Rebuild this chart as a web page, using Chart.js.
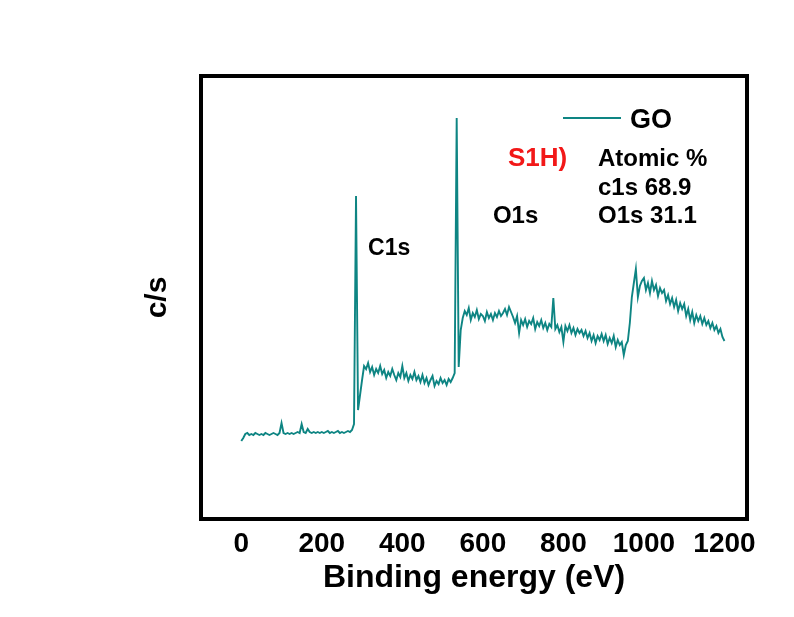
<!DOCTYPE html>
<html>
<head>
<meta charset="utf-8">
<title>XPS survey - GO</title>
<script src="https://cdn.jsdelivr.net/npm/chart.js@4.4.1/dist/chart.umd.min.js"></script>
<style>
  html, body { margin: 0; padding: 0; background: #fff; }
  #wrap { width: 794px; height: 617px; }
</style>
</head>
<body>
<div id="wrap"><canvas id="xps" width="794" height="617"></canvas></div>
<script>
const FONT = "'Liberation Sans', Arial, sans-serif";

// survey scan, 5 eV step from 0 to 1200 eV (counts per second)
const stepEV = 5;
const counts = [
  7800, 8100, 8500, 8600, 8400, 8500, 8400, 8600, 8500, 8400,   // 0-45
  8500, 8400, 8600, 8500, 8400, 8500, 8600, 8500, 8400, 8600,   // 50-95
  9600, 8600, 8500, 8600, 8500, 8600, 8500, 8600, 8700, 8600,   // 100-145
  9500, 8700, 8600, 9000, 8700, 8600, 8700, 8600, 8700, 8600,   // 150-195
  8700, 8600, 8700, 8800, 8600, 8700, 8600, 8700, 8800, 8600,   // 200-245
  8700, 8600, 8700, 8800, 8700, 8900, 9500, 32300, 10900, 12400, // 250-295 (C1s)
  13900, 15300, 15000, 15600, 14700, 15200, 14400, 15000, 14600, 15300, // 300-345
  14500, 14900, 14100, 14700, 14300, 15000, 14400, 13900, 14600, 14200, // 350-395
  15300, 14100, 14600, 13800, 14400, 14000, 14700, 13900, 14300, 13700, // 400-445
  14400, 13600, 14100, 13400, 13900, 14300, 13300, 13800, 13500, 14100, // 450-495
  13600, 13900, 13400, 14000, 13700, 14100, 14600, 40100, 15200, 18900, // 500-545 (O1s)
  20100, 20800, 20400, 21100, 19900, 20600, 20200, 20900, 20000, 20500, // 550-595
  20300, 19800, 20700, 20100, 20500, 19900, 20600, 20200, 20800, 20300, // 600-645
  20600, 21000, 20400, 21200, 20700, 20200, 19600, 20300, 18600, 19900, // 650-695
  19400, 20000, 19200, 19800, 19500, 20100, 19000, 19700, 19300, 19900, // 700-745
  19100, 19600, 18900, 19500, 19200, 22100, 19000, 19400, 18700, 19200, // 750-795
  17700, 19300, 18800, 19400, 18600, 19100, 18400, 19000, 18600, 18900, // 800-845
  18300, 18800, 18100, 18600, 17800, 18400, 17600, 18300, 17900, 18500, // 850-895
  17800, 18400, 17500, 18100, 17600, 18300, 17200, 17900, 17400, 17700, // 900-945
  16400, 17400, 17800, 19600, 22200, 23600, 25000, 22200, 23300, 23800, // 950-995
  24100, 22900, 23600, 22600, 23800, 22900, 23400, 22300, 23100, 22600, // 1000-1045
  22900, 21800, 22400, 21500, 22100, 21200, 21900, 20800, 21600, 21000, // 1050-1095
  21500, 20300, 21000, 19900, 20700, 19600, 20400, 19800, 20300, 19500, // 1100-1145
  20100, 19400, 19800, 19100, 19600, 18900, 19300, 18600, 19000, 18200, // 1150-1195
  17800                                                                  // 1200
];
const energy = counts.map((c, i) => i * stepEV);

const xTicks = [0, 200, 400, 600, 800, 1000, 1200];
const peakNames = ['C1s', 'O1s'];
const peakLabelAt = [[315, 26400], [625, 29600]];   // eV, c/s of label baseline-left
const atomicNames = ['c1s', 'O1s'];
const atomicPct = [68.9, 31.1];
const panelTag = 'S1H)';
const seriesName = 'GO';
const lineColor = '#0e8583';

// frame, legend and text notes drawn on top of the trace
const notes = {
  id: 'notes',
  afterDatasetsDraw(chart) {
    const { ctx, chartArea: a, scales: { x, y } } = chart;
    ctx.save();
    ctx.strokeStyle = '#000';
    ctx.lineWidth = 4;
    ctx.strokeRect(a.left, a.top, a.right - a.left, a.bottom - a.top);

    ctx.fillStyle = '#000';
    ctx.textBaseline = 'alphabetic';
    ctx.textAlign = 'left';
    peakNames.forEach((name, i) => {
      ctx.font = 'bold ' + (i === 0 ? 23 : 24) + 'px ' + FONT;
      ctx.fillText(name, x.getPixelForValue(peakLabelAt[i][0]), y.getPixelForValue(peakLabelAt[i][1]));
    });

    // legend
    ctx.strokeStyle = lineColor;
    ctx.lineWidth = 2;
    ctx.beginPath();
    ctx.moveTo(a.left + 362, a.top + 42);
    ctx.lineTo(a.left + 420, a.top + 42);
    ctx.stroke();
    ctx.font = 'bold 27px ' + FONT;
    ctx.fillText(seriesName, a.left + 429, a.top + 52);

    ctx.fillStyle = '#f21818';
    ctx.font = 'bold 26px ' + FONT;
    ctx.fillText(panelTag, a.left + 307, a.top + 90);

    ctx.fillStyle = '#000';
    ctx.font = 'bold 24px ' + FONT;
    ctx.fillText('Atomic %', a.left + 397, a.top + 90);
    atomicNames.forEach((n, i) => {
      ctx.fillText(n + ' ' + atomicPct[i].toFixed(1), a.left + 397, a.top + 118.5 + i * 28.5);
    });
    ctx.restore();
  }
};

const ctx = document.getElementById('xps').getContext('2d');
const chart = new Chart(ctx, {
  type: 'line',
  data: {
    datasets: [{
      label: seriesName,
      data: energy.map((e, i) => ({ x: e, y: counts[i] })),
      borderColor: lineColor,
      borderWidth: 1.9,
      pointRadius: 0,
      tension: 0,
      fill: false
    }]
  },
  options: {
    responsive: false,
    animation: false,
    layout: { padding: { left: 0, right: 47, top: 76, bottom: 0 } },
    plugins: {
      legend: { display: false },
      tooltip: { enabled: false }
    },
    scales: {
      x: {
        type: 'linear',
        min: -100,
        max: 1256,
        grid: { display: false, drawTicks: false },
        border: { display: false },
        afterBuildTicks: s => { s.ticks = xTicks.map(v => ({ value: v })); },
        afterFit: s => { s.height = 98; },
        ticks: {
          autoSkip: false,
          maxRotation: 0,
          padding: 8,
          color: '#000',
          callback: v => String(v),
          font: { family: FONT, size: 28, weight: 'bold' }
        },
        title: {
          display: true,
          text: 'Binding energy (eV)',
          color: '#000',
          padding: { top: 0, bottom: 20 },
          font: { family: FONT, size: 32, weight: 'bold' }
        }
      },
      y: {
        min: 0,
        max: 44300,
        grid: { display: false, drawTicks: false },
        border: { display: false },
        ticks: { display: false },
        afterFit: s => { s.width = 201; },
        title: {
          display: true,
          text: 'c/s',
          color: '#000',
          padding: { top: 140, bottom: 0 },
          font: { family: FONT, size: 30, weight: 'bold' }
        }
      }
    }
  },
  plugins: [notes]
});
</script>
</body>
</html>
